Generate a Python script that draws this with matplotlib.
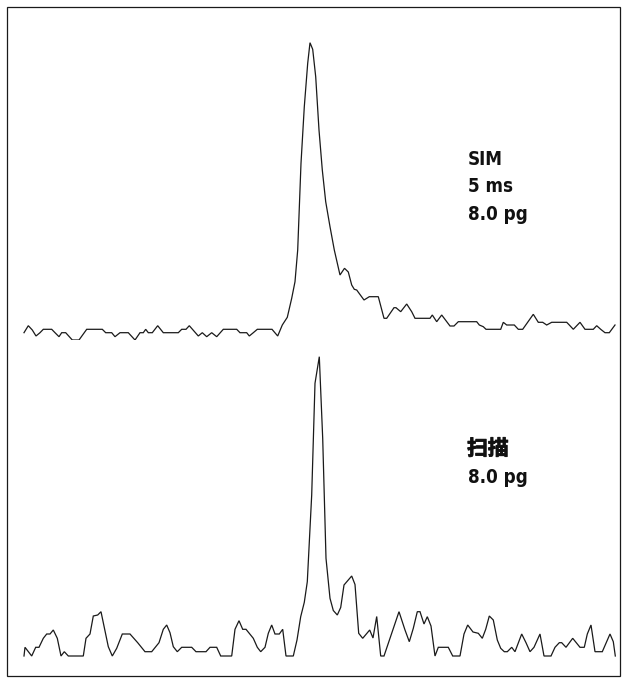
import matplotlib
matplotlib.use("Agg")
import matplotlib.pyplot as plt
import matplotlib.patheffects as pe
from matplotlib.patches import Rectangle

# ---- SIM trace (retention position, response) ----
sim_rt = [24, 28.3, 32.3, 36, 40, 43.3, 51.7, 55, 59, 61.7, 65.7, 72.3, 79, 86.7, 102.3,
          105.7, 111.7, 115, 120, 128.3, 135, 140, 143.3, 145.7, 148.3, 152.3, 157.7, 163.3,
          178.3, 181.7, 186, 189.3, 198.3, 202.3, 206.7, 211.7, 216.7, 223.3, 236.7, 240,
          246.7, 249.3, 253.3, 257.3, 272, 277.7, 282.3, 287.3, 291.7, 295, 297.7, 301,
          304.3, 307.7, 310, 312.7, 315.7, 319, 322.3, 325.7, 330, 334.3, 340, 344.5, 348.3,
          351.7, 354.3, 356.7, 364, 369.3, 378.3, 384, 386.7, 394, 396, 400.7, 406.7, 411.7,
          415, 430, 432.3, 436.7, 441.7, 450, 454, 458.3, 476.7, 479.3, 483.3, 486, 500.7,
          503.3, 506.7, 514.3, 518.3, 522.7, 533.3, 538.3, 542.7, 546.7, 551.7, 566.7, 569.3,
          573.3, 580, 585, 593.3, 596.7, 600.7, 605, 609.3, 615]
sim_resp = [7.3, 14.3, 10, 4, 7.3, 10.7, 10.7, 7.3, 3.3, 7.3, 7.3, 0, 0, 10.7, 10.7,
            7.3, 7.3, 3.3, 7.3, 7.3, 0, 7.3, 7.3, 10.7, 7.3, 7.3, 14.3, 7.3,
            7.3, 10.7, 10.7, 14.3, 4, 7.3, 3.3, 7.3, 3.3, 10.7, 10.7, 7.3,
            7.3, 4, 7.3, 10.7, 10.7, 4, 15, 22.7, 41.7, 58.3, 90, 176.7,
            233.3, 276.7, 297.3, 290.7, 263.3, 210, 170, 138.3, 113.3, 90, 65, 71.7, 68,
            55, 50.7, 50, 40, 43.3, 43.3, 21.7, 21.7, 32.3, 32.3, 28.3, 36, 28.3,
            21.7, 21.7, 25, 18.3, 25, 14, 14, 18.3, 18.3, 15, 13.3, 10.7, 10.7,
            17.7, 15, 15, 10.7, 10.7, 25.7, 17.7, 17.7, 15, 17.7, 17.7, 15,
            10.7, 17.7, 10.7, 10.7, 14.3, 10.7, 7.3, 7.3, 15]

# ---- Scan trace ----
scan_rt = [24, 25, 31.7, 35.7, 39, 43.3, 46.7, 50, 53.3, 57.3, 61, 64.3, 68.3, 83.3, 86,
           90, 93.3, 97.7, 101, 108.3, 112.3, 116.7, 122.3, 130, 137.7, 145, 151.7, 159,
           163.3, 166.7, 170, 173.3, 177.3, 181.7, 191.7, 196, 206, 210, 216.7, 220.7, 231.7,
           235, 239, 242.7, 246, 253.3, 257.3, 260.7, 265, 268.3, 271.7, 275, 279.3, 282.7,
           286, 293.3, 297, 300.7, 304.3, 307.3, 311.7, 315, 319.3, 322.7, 326, 330, 333.3,
           337.3, 340.7, 344, 348.3, 351.7, 355, 358.7, 362.7, 369.7, 373, 376.7, 380.7, 384,
           388.3, 391.7, 399, 405, 409.3, 413.3, 417.3, 420, 424, 427.3, 431, 435, 438.3,
           448.3, 452.7, 460, 464, 467.7, 473, 478.3, 482.3, 485.7, 489.3, 493.3, 497.3,
           500.7, 504.3, 507.3, 511.7, 515, 521.7, 526, 530, 534, 540, 544, 551, 555, 559.3,
           561.7, 566, 572.7, 580, 584.3, 587.3, 591, 595, 602.3, 610, 613.3, 615.3]
scan_resp = [4, 12.7, 4, 12.7, 12.7, 21.7, 26, 26, 30, 21.7, 4, 8.3, 4, 4, 21.7,
             26, 44, 45, 48.3, 13.3, 4, 11.7, 26, 26, 17.3, 8.3, 8.3, 17.3,
             30.7, 35, 27.3, 13.3, 8.3, 12.7, 12.7, 8.3, 8.3, 12.7, 12.7, 4, 4,
             30.7, 39.3, 30.7, 30.7, 21.7, 12.7, 8.3, 12.7, 26.7, 35, 26, 26, 30.7,
             4, 4, 20, 43.3, 57.7, 78.3, 165, 276.7, 303.3, 221.7, 101.7, 61.7, 49.5,
             45, 52.5, 75, 80, 84, 75.5, 26.7, 21.7, 30, 22, 43.5, 4, 4,
             16.7, 26.7, 48.3, 30, 18.3, 31.7, 48.3, 48.3, 36, 43.3, 34, 4, 12.7,
             12.7, 4, 4, 26, 35, 28, 26.7, 21.7, 30.7, 44, 40, 20,
             11.7, 8.3, 8.3, 12.7, 8.3, 26, 17.3, 8.3, 12.7, 26, 4, 4, 12.7, 17.3,
             17.3, 12.7, 21.7, 12.7, 12.7, 26, 35, 8.3, 8.3, 26, 18.3, 4]

sim_labels = ["SIM", "5 ms", "8.0 pg"]
scan_labels = ["扫描", "8.0 pg"]

W, H = 622, 680
fig = plt.figure(figsize=(W / 100, H / 100), dpi=100)
fig.patch.set_facecolor("white")

line_kw = dict(color="#1a1a1a", lw=0.9, solid_joinstyle="miter")

ax1 = fig.add_axes([0, 340 / H, 1, 340 / H])
ax1.plot(sim_rt, sim_resp, **line_kw)
ax1.set_xlim(0, W)
ax1.set_ylim(0, 340)
ax1.axis("off")

ax2 = fig.add_axes([0, 20 / H, 1, 320 / H])
ax2.plot(scan_rt, scan_resp, **line_kw)
ax2.set_xlim(0, W)
ax2.set_ylim(0, 320)
ax2.axis("off")

latin = dict(fontsize=13.5, fontweight="bold", fontstretch="condensed", color="#111111",
             ha="left", va="baseline", family=["DejaVu Sans"])
for i, s in enumerate(sim_labels):
    ax1.text(468, 340 - (165 + 27.5 * i), s, **latin)

ax2.text(467, 660 - 455, scan_labels[0], fontsize=15, fontweight="bold", color="#111111",
         ha="left", va="baseline", family=["Noto Sans CJK SC", "DejaVu Sans"],
         path_effects=[pe.withStroke(linewidth=0.6, foreground="#111111")])
ax2.text(468, 660 - 483.3, scan_labels[1], **latin)

fig.add_artist(Rectangle((7 / W, 4 / H), (W - 9) / W, (H - 11) / H, transform=fig.transFigure,
                         fill=False, edgecolor="#1a1a1a", lw=0.9))

fig.savefig("out.png", dpi=100, facecolor="white")
